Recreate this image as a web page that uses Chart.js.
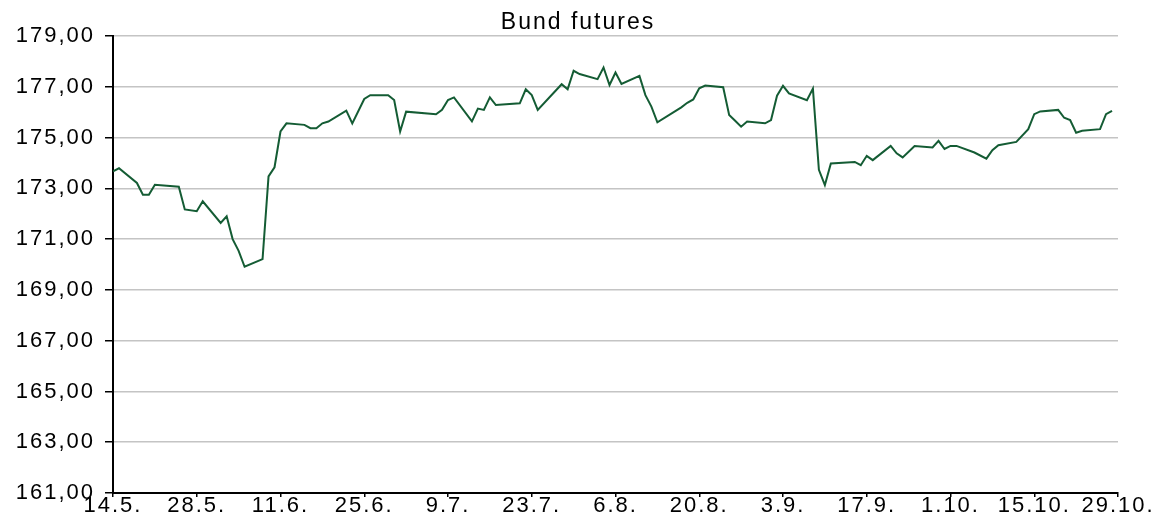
<!DOCTYPE html>
<html>
<head>
<meta charset="utf-8">
<script src="https://cdn.jsdelivr.net/npm/chart.js@4/dist/chart.umd.min.js"></script>
<style>
    html, body { margin: 0; padding: 0; background: #fff; }
    #wrap { width: 1156px; height: 525px; }
</style>
</head>
<body>
<div id="wrap"><canvas id="bundChart" width="1156" height="525"></canvas></div>
<script>
// дни от 14.5.
const days = [0, 1, 4, 5, 6, 7, 11, 12, 14, 15, 18, 19, 20, 21, 22, 25, 26, 27, 28, 29,
    32, 33, 34, 35, 36, 39, 40, 42, 43, 46, 47, 48, 49, 54, 55, 56, 57, 60, 61, 62,
    63, 64, 68, 69, 70, 71, 75, 76, 77, 78, 81, 82, 83, 84, 85, 88, 89, 90, 91, 95,
    96, 97, 98, 99, 102, 103, 104, 105, 106, 109, 110, 111, 112, 113, 116, 117, 118, 119, 120, 124,
    125, 126, 127, 130, 131, 132, 134, 137, 138, 139, 140, 141, 144, 146, 147, 148, 151, 153, 154, 155,
    158, 159, 160, 161, 162, 165, 166, 167];

const prices = [173.67, 173.79, 173.21, 172.75, 172.75, 173.14, 173.06, 172.17, 172.10, 172.49,
    171.64, 171.90, 171.00, 170.54, 169.91, 170.21, 173.47, 173.83, 175.24, 175.56,
    175.50, 175.37, 175.37, 175.56, 175.63, 176.06, 175.56, 176.52, 176.67, 176.67,
    176.48, 175.24, 176.02, 175.92, 176.09, 176.48, 176.58, 175.64, 176.14, 176.09,
    176.58, 176.28, 176.35, 176.90, 176.67, 176.09, 177.10, 176.90, 177.63, 177.50,
    177.30, 177.76, 177.07, 177.56, 177.11, 177.43, 176.67, 176.22, 175.60, 176.19,
    176.37, 176.50, 176.94, 177.05, 176.98, 175.89, 175.66, 175.43, 175.63, 175.56,
    175.69, 176.65, 177.04, 176.74, 176.47, 176.93, 173.73, 173.13, 173.98, 174.04,
    173.91, 174.28, 174.11, 174.67, 174.38, 174.22, 174.67, 174.61, 174.87, 174.55,
    174.67, 174.67, 174.41, 174.17, 174.50, 174.70, 174.83, 175.33, 175.92, 176.03,
    176.09, 175.78, 175.69, 175.19, 175.27, 175.33, 175.92, 176.05];

const tickLabels = ['14.5.', '28.5.', '11.6.', '25.6.', '9.7.', '23.7.', '6.8.',
    '20.8.', '3.9.', '17.9.', '1.10.', '15.10.', '29.10.'];

const yMin = 161, yMax = 179, yStep = 2;
const xStep = 14;

// растянутый шрифт как в Excel
const spacingPlugin = {
    id: 'spacing',
    beforeUpdate(chart) { chart.ctx.letterSpacing = '2px'; },
    beforeDraw(chart) { chart.ctx.letterSpacing = '2px'; }
};

document.addEventListener('DOMContentLoaded', function () {
    const ctx = document.getElementById('bundChart').getContext('2d');
    const family = '"Liberation Sans", Arial, sans-serif';

    new Chart(ctx, {
        type: 'line',
        data: {
            datasets: [{
                label: 'Bund futures',
                data: days.map((d, i) => ({ x: d, y: prices[i] })),
                borderColor: '#145c34',
                borderWidth: 2,
                pointRadius: 0,
                tension: 0,
                fill: false
            }]
        },
        options: {
            responsive: false,
            animation: false,
            layout: { padding: 0 },
            plugins: {
                legend: { display: false },
                tooltip: { enabled: false },
                title: {
                    display: true,
                    text: 'Bund futures',
                    color: '#000',
                    font: { family: family, size: 23, weight: 'normal', lineHeight: 1 },
                    padding: { top: 11, bottom: 2 }
                }
            },
            scales: {
                x: {
                    type: 'linear',
                    min: 0,
                    max: xStep * (tickLabels.length - 1),
                    afterBuildTicks: function (scale) {
                        scale.ticks = tickLabels.map((t, i) => ({ value: i * xStep }));
                    },
                    afterFit: function (scale) {
                        scale.height = 32;
                        scale.paddingRight = 38;
                    },
                    ticks: {
                        color: '#000',
                        font: { family: family, size: 22, lineHeight: 1 },
                        padding: -2,
                        maxRotation: 0,
                        autoSkip: false,
                        callback: function (value) {
                            return tickLabels[Math.round(value / xStep)];
                        }
                    },
                    grid: {
                        drawOnChartArea: false,
                        drawTicks: true,
                        tickLength: 4,
                        tickColor: '#000',
                        lineWidth: 1.5
                    },
                    border: { display: true, color: '#000', width: 2 }
                },
                y: {
                    min: yMin,
                    max: yMax,
                    afterFit: function (scale) { scale.width = 113; },
                    ticks: {
                        stepSize: yStep,
                        color: '#000',
                        font: { family: family, size: 22 },
                        padding: 10,
                        callback: function (value) {
                            return value.toFixed(2).replace('.', ',');
                        }
                    },
                    grid: {
                        color: '#c4c4c4',
                        lineWidth: 1.5,
                        tickLength: 8,
                        tickColor: '#000'
                    },
                    border: { display: true, color: '#000', width: 2 }
                }
            }
        },
        plugins: [spacingPlugin]
    });
});
</script>
</body>
</html>
